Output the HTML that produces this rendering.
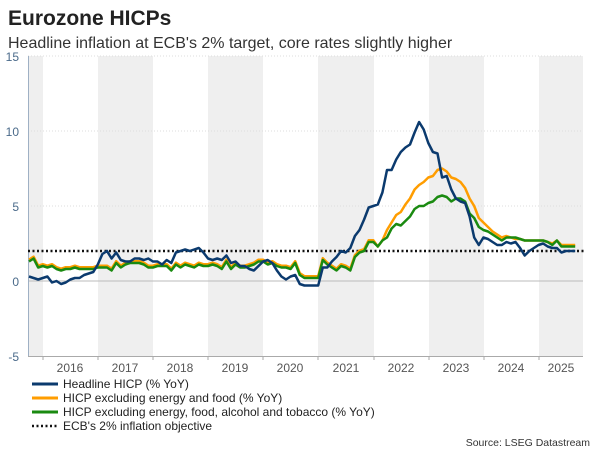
<!DOCTYPE html>
<html><head><meta charset="utf-8"><style>
body{margin:0;background:#fff;font-family:"Liberation Sans",sans-serif;}
svg{display:block}
</style></head><body>
<svg id="c" width="600" height="450" xmlns="http://www.w3.org/2000/svg" font-family="Liberation Sans, sans-serif">
<text x="8" y="25" font-size="21" font-weight="bold" fill="#222">Eurozone HICPs</text>
<text x="8" y="48" font-size="16" fill="#333">Headline inflation at ECB's 2% target, core rates slightly higher</text>
<g fill="#efefef">
<rect x="28" y="56" width="15" height="300"/>
<rect x="98" y="56" width="55" height="300"/>
<rect x="208" y="56" width="55" height="300"/>
<rect x="318" y="56" width="56" height="300"/>
<rect x="429" y="56" width="55" height="300"/>
<rect x="539" y="56" width="44" height="300"/>
</g>
<g stroke="#ddd" stroke-dasharray="1,2" stroke-width="1">
<line x1="28" x2="583" y1="56" y2="56"/><line x1="28" x2="583" y1="131" y2="131"/><line x1="28" x2="583" y1="206" y2="206"/>
</g>
<line x1="28" x2="583" y1="281" y2="281" stroke="#bbb"/>
<line x1="28.5" x2="28.5" y1="56" y2="356" stroke="#9fb0c4"/>
<line x1="28" x2="583" y1="356.5" y2="356.5" stroke="#aaa"/>
<g stroke="#aaa">
<line x1="43" x2="43" y1="356" y2="360"/><line x1="98" x2="98" y1="356" y2="360"/><line x1="153" x2="153" y1="356" y2="360"/><line x1="208" x2="208" y1="356" y2="360"/><line x1="263" x2="263" y1="356" y2="360"/><line x1="318" x2="318" y1="356" y2="360"/><line x1="374" x2="374" y1="356" y2="360"/><line x1="429" x2="429" y1="356" y2="360"/><line x1="484" x2="484" y1="356" y2="360"/><line x1="539" x2="539" y1="356" y2="360"/>
</g>
<g font-size="12" fill="#4a6a8a" text-anchor="end">
<text x="19" y="61">15</text><text x="19" y="136">10</text><text x="19" y="211">5</text><text x="19" y="286">0</text><text x="19" y="361">-5</text>
</g>
<g font-size="12" fill="#555" text-anchor="middle">
<text x="70" y="372">2016</text><text x="125" y="372">2017</text><text x="180" y="372">2018</text><text x="235" y="372">2019</text><text x="290" y="372">2020</text><text x="346" y="372">2021</text><text x="401" y="372">2022</text><text x="456" y="372">2023</text><text x="511" y="372">2024</text><text x="561" y="372">2025</text>
</g>
<line x1="28" x2="584" y1="251" y2="251" stroke="#111" stroke-width="2.5" stroke-dasharray="2,2.5"/>
<g id="series"></g>
<line x1="32" x2="58" y1="384" y2="384" stroke="#0b3a6e" stroke-width="3"/>
<line x1="32" x2="58" y1="398" y2="398" stroke="#ff9d00" stroke-width="3"/>
<line x1="32" x2="58" y1="412" y2="412" stroke="#1a8a10" stroke-width="3"/>
<line x1="32" x2="58" y1="426" y2="426" stroke="#111" stroke-width="2.5" stroke-dasharray="2,2.5"/>
<g font-size="12" fill="#222">
<text x="63" y="388">Headline HICP (% YoY)</text>
<text x="63" y="402">HICP excluding energy and food (% YoY)</text>
<text x="63" y="416">HICP excluding energy, food, alcohol and tobacco (% YoY)</text>
<text x="63" y="430">ECB's 2% inflation objective</text>
</g>
<text x="590" y="446" font-size="10.5" fill="#333" text-anchor="end">Source: LSEG Datastream</text>
</svg>
<script>
var H=[0.3,0.2,0.1,0.2,0.3,-0.1,0.0,-0.2,-0.1,0.1,0.2,0.2,0.4,0.5,0.6,1.1,
1.8,2.0,1.5,1.9,1.4,1.3,1.3,1.5,1.5,1.4,1.5,1.3,
1.3,1.1,1.4,1.2,1.9,2.0,2.1,2.0,2.1,2.2,1.9,1.5,
1.4,1.5,1.4,1.7,1.2,1.3,1.0,1.0,0.8,0.7,1.0,1.3,
1.4,1.2,0.7,0.3,0.1,0.3,0.4,-0.2,-0.3,-0.3,-0.3,-0.3,
0.9,0.9,1.3,1.6,2.0,1.9,2.2,3.0,3.4,4.1,4.9,5.0,
5.1,5.9,7.4,7.4,8.1,8.6,8.9,9.1,9.9,10.6,10.1,9.2,
8.6,8.5,6.9,7.0,6.1,5.5,5.3,5.2,4.3,2.9,2.4,2.9,
2.8,2.6,2.4,2.4,2.6,2.5,2.6,2.2,1.7,2.0,2.2,2.4,
2.5,2.3,2.2,2.2,1.9,2.0,2.0,2.0];
var G=[1.3,1.5,0.9,1.0,0.9,1.0,0.8,0.7,0.8,0.8,0.9,0.8,0.8,0.8,0.8,0.9,
0.9,0.9,0.7,1.2,0.9,1.1,1.2,1.2,1.2,1.1,0.9,0.9,
1.0,1.0,1.0,0.7,1.1,0.9,1.1,1.0,0.9,1.1,1.0,1.0,
1.1,1.0,0.8,1.3,0.8,1.1,0.9,0.9,1.0,1.1,1.3,1.3,
1.1,1.2,1.0,0.9,0.9,0.8,1.2,0.4,0.2,0.2,0.2,0.2,
1.4,1.1,0.9,0.7,1.0,0.9,0.7,1.6,1.9,2.0,2.6,2.6,
2.3,2.7,2.9,3.5,3.8,3.7,4.0,4.3,4.8,5.0,5.0,5.2,
5.3,5.6,5.7,5.6,5.3,5.5,5.5,5.3,4.5,4.2,3.6,3.4,
3.3,3.1,2.9,2.7,2.9,2.9,2.9,2.8,2.7,2.7,2.7,2.7,
2.7,2.6,2.4,2.7,2.3,2.3,2.3,2.3];
var O=G.slice();
var o22=[2.3,2.7,3.4,3.9,4.4,4.6,5.1,5.5,6.1,6.4,6.6,6.9,7.0,7.4,7.5,7.3,6.9,6.8,6.6,6.2,5.5,5.0,4.2,3.9,3.6,3.3,3.1,2.9,3.0,2.9,2.8,2.8,2.7,2.7,2.7,2.7,2.7,2.6,2.5,2.7,2.4,2.4,2.4,2.4];
for(var i=0;i<76;i++)O[i]=G[i]+0.12;
for(var i=0;i<o22.length;i++)O[76+i]=o22[i];
function path(a,c){var d="";for(var i=0;i<a.length;i++){var x=29+i*4.59,y=281-a[i]*15;d+=(i?"L":"M")+x.toFixed(1)+","+y.toFixed(1);}
return '<path d="'+d+'" fill="none" stroke="'+c+'" stroke-width="2.5" stroke-linejoin="round"/>';}
document.getElementById("series").innerHTML=path(O,"#ff9d00")+path(G,"#1a8a10")+path(H,"#0b3a6e");
</script>
</body></html>
